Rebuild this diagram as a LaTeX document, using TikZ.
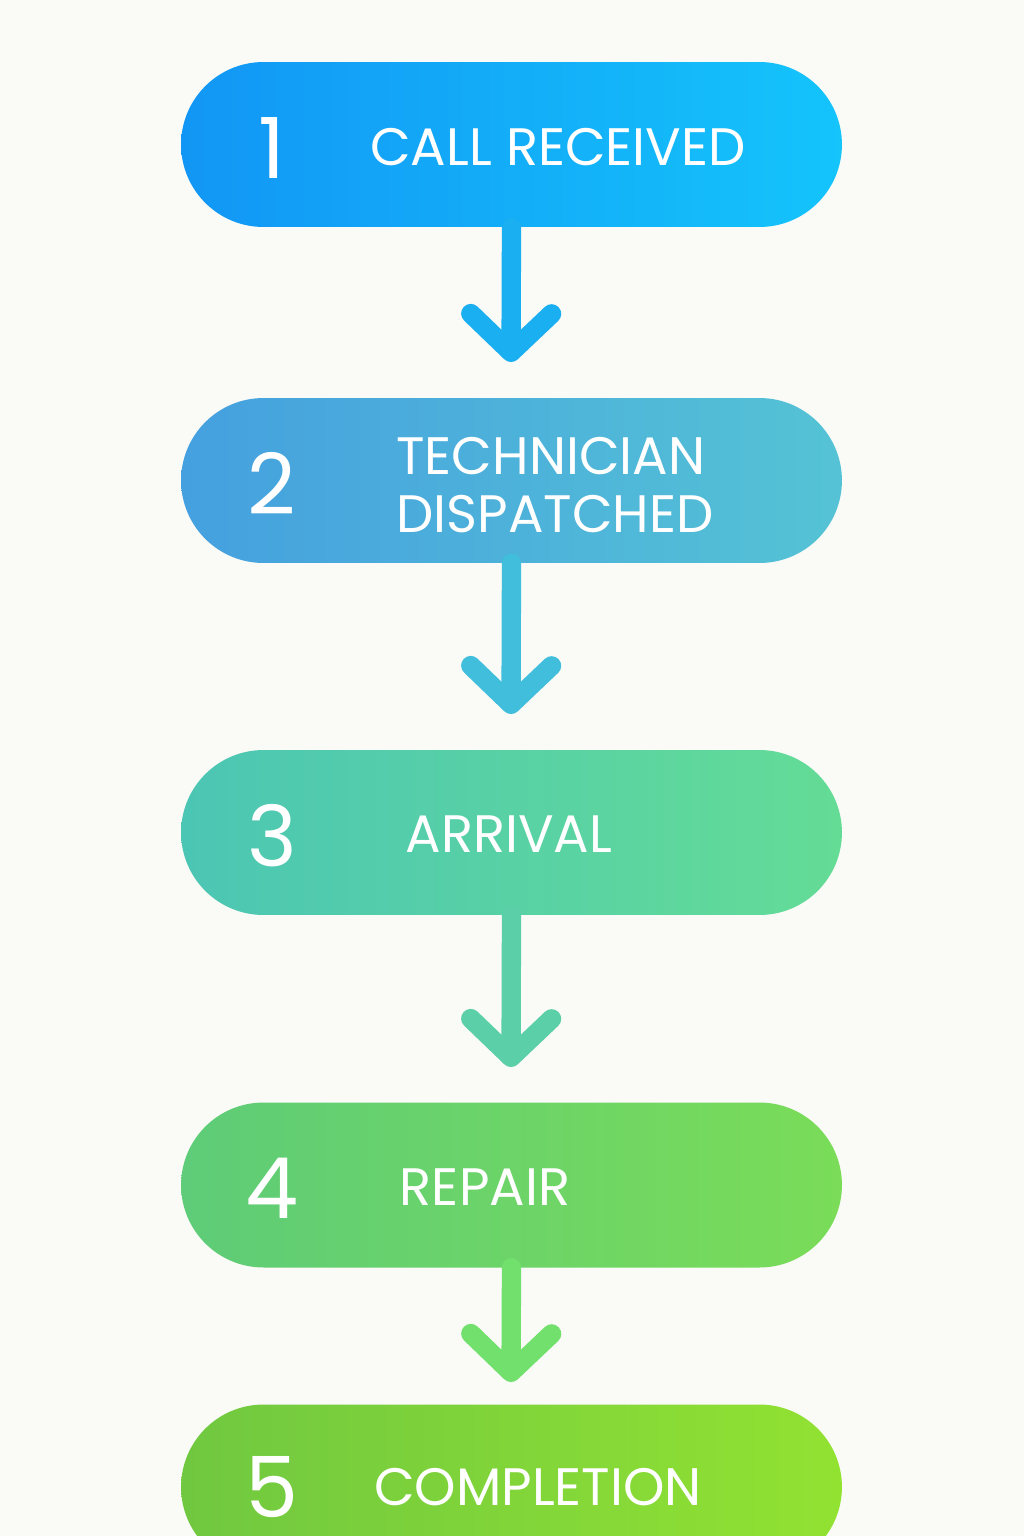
\documentclass[tikz,border=0pt]{standalone}
\usepackage{fontspec}
\setmainfont{Poppins}
\usetikzlibrary{positioning}
\usetikzlibrary{arrows.meta}
\definecolor{bgcol}{HTML}{FAFAF7}
\definecolor{aL}{HTML}{1296F5}\definecolor{aR}{HTML}{14C4FB}
\definecolor{bL}{HTML}{45A0DF}\definecolor{bR}{HTML}{55C3D5}
\definecolor{cL}{HTML}{4CC6B4}\definecolor{cR}{HTML}{64DC96}
\definecolor{dL}{HTML}{5ECC78}\definecolor{dR}{HTML}{7ADC58}
\definecolor{eL}{HTML}{70C840}\definecolor{eR}{HTML}{92E232}
\definecolor{arA}{HTML}{1AAFF0}\definecolor{arB}{HTML}{40BEDC}
\definecolor{arC}{HTML}{5ACFA8}\definecolor{arD}{HTML}{72E06C}
\begin{document}
\begin{tikzpicture}[x=0.02cm,y=-0.02cm,
pill/.style = {shape = rectangle, rounded corners = 1.65cm, minimum width = 13.22cm, minimum height = 3.3cm, draw = none, inner sep = 0},
num/.style = {text = white, font = \fontsize{48}{48}\selectfont},
lbl/.style = {text = white, font = \fontsize{30}{33}\selectfont, align = left},
flow/.style = {line width = 11pt, line cap = round, -{Straight Barb[length = 22pt, width = 46pt, line cap = round, line join = round]}},
]
\fill[bgcol] (0,0) rectangle (1024,1536);
\useasboundingbox (0,0) rectangle (1024,1536);
\clip (0,0) rectangle (1024,1536);

\node[pill, left color = aL, right color = aR] (p1) at (511.5,144.5) {};
\node[pill, left color = bL, right color = bR] (p2) at (511.5,480.5) {};
\node[pill, left color = cL, right color = cR] (p3) at (511.5,832.5) {};
\node[pill, left color = dL, right color = dR] (p4) at (511.5,1185) {};
\node[pill, left color = eL, right color = eR] (p5) at (511.5,1487) {};

\node[num] (n1) at (272,148) {1};
\node[lbl] (t1) at (558,147) {CALL RECEIVED};
\node[num] (n2) at (272,483) {2};
\node[lbl] (t2) at (555,485) {TECHNICIAN\\DISPATCHED};
\node[num] (n3) at (272,836) {3};
\node[lbl] (t3) at (509,834) {ARRIVAL};
\node[num] (n4) at (272,1188) {4};
\node[lbl] (t4) at (485,1187) {REPAIR};
\node[num] (n5) at (272,1487) {5};
\node[lbl] (t5) at (538,1487) {COMPLETION};

\coordinate (e1) at (511,362);
\coordinate (e2) at (511,714);
\coordinate (e3) at (511,1067);
\coordinate (e4) at (511,1382);

\draw[flow, arA] (p1.south) -- (e1);
\draw[flow, arB] (p2.south) -- (e2);
\draw[flow, arC] (p3.south) -- (e3);
\draw[flow, arD] (p4.south) -- (e4);
\end{tikzpicture}
\end{document}
